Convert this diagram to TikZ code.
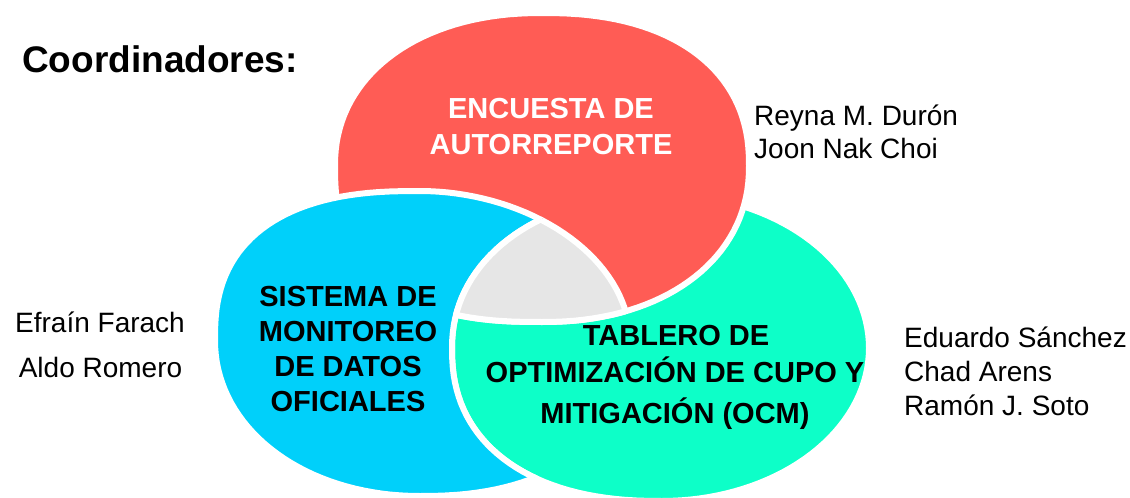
\documentclass[tikz,border=0pt]{standalone}
\usepackage{fontspec}
\setmainfont{Liberation Sans}
\definecolor{redc}{HTML}{FF5C55}
\definecolor{bluec}{HTML}{00D0FA}
\definecolor{greenc}{HTML}{0DFFC8}
\definecolor{grayc}{HTML}{E6E6E6}
\newcommand\sepw[2]{pow(abs(#1(\x))+0.00001,#2)}
\tikzset{
  redshape/.style={insert path={
    plot[domain=0:90,samples=36] ({542+207*\sepw{cos}{0.87}},{166-153*\sepw{sin}{0.87}})
    -- plot[domain=90:180,samples=36] ({542-207*\sepw{cos}{0.93}},{166-153*\sepw{sin}{0.93}})
    -- plot[domain=180:270,samples=36] ({542-207*\sepw{cos}{0.8}},{166+156*\sepw{sin}{0.8}})
    -- plot[domain=270:360,samples=36] ({542+207*\sepw{cos}{0.93}},{166+156*\sepw{sin}{0.93}})
    -- cycle}},
  blueshape/.style={insert path={
    plot[domain=0:90,samples=36] ({420+210*\sepw{cos}{1.026}},{340-149*\sepw{sin}{1.026}})
    -- plot[domain=90:180,samples=36] ({420-205*\sepw{cos}{0.8}},{340-149*\sepw{sin}{0.8}})
    -- plot[domain=180:270,samples=36] ({420-205*\sepw{cos}{0.976}},{340+156*\sepw{sin}{0.976}})
    -- plot[domain=270:360,samples=36] ({420+210*\sepw{cos}{0.87}},{340+156*\sepw{sin}{0.87}})
    -- cycle}},
  greenshape/.style={insert path={
    plot[domain=0:90,samples=36] ({662+207*\sepw{cos}{1.0}},{348-154*\sepw{sin}{1.0}})
    -- plot[domain=90:180,samples=36] ({662-210*\sepw{cos}{0.952}},{348-154*\sepw{sin}{0.952}})
    -- plot[domain=180:270,samples=36] ({662-210*\sepw{cos}{0.87}},{348+153*\sepw{sin}{0.87}})
    -- plot[domain=270:360,samples=36] ({662+207*\sepw{cos}{1.0}},{348+153*\sepw{sin}{1.0}})
    -- cycle}},
  wline/.style={draw=white, line width=6pt},
  lbl/.style={inner sep=0pt, anchor=base},
  boldlbl/.style={lbl, font=\bfseries\fontsize{29}{35}\selectfont},
  namelbl/.style={inner sep=0pt, font=\fontsize{28}{34}\selectfont},
}
\begin{document}
\begin{tikzpicture}[x=1pt,y=-1pt]
\useasboundingbox (0,0) rectangle (1130,498);
% green (bottom layer)
\path[fill=greenc, greenshape];
\path[wline, greenshape];
% red over green
\path[fill=redc, redshape];
\path[wline, redshape];
% blue over red, but not inside green
\begin{scope}
  \path[clip, greenshape] (-20,-20) -- (1150,-20) -- (1150,520) -- (-20,520) -- cycle;
  \path[fill=bluec, blueshape];
  \path[wline, blueshape];
\end{scope}
% green outline over blue
\begin{scope}
  \path[clip, blueshape];
  \path[wline, greenshape];
\end{scope}
% common centre
\begin{scope}
  \path[clip, blueshape];
  \path[clip, greenshape];
  \path[clip, redshape];
  \path[fill=grayc, redshape];
\end{scope}
\begin{scope}
  \path[clip, blueshape];
  \path[clip, greenshape];
  \path[wline, redshape];
\end{scope}
\begin{scope}
  \path[clip, redshape];
  \path[clip, greenshape];
  \path[wline, blueshape];
\end{scope}
\begin{scope}
  \path[clip, redshape];
  \path[clip, blueshape];
  \path[wline, greenshape];
\end{scope}
% texts
\node[lbl, anchor=base west, font=\bfseries\fontsize{37}{44}\selectfont] (coord) at (22,72) {Coordinadores:};
\node[boldlbl, white] (enc1) at (551,118) {ENCUESTA DE};
\node[boldlbl, white] (enc2) at (551,154) {AUTORREPORTE};
\node[boldlbl] (sis1) at (348,306) {SISTEMA DE};
\node[boldlbl] (sis2) at (348,341) {MONITOREO};
\node[boldlbl] (sis3) at (348,376) {DE DATOS};
\node[boldlbl] (sis4) at (348,411) {OFICIALES};
\node[boldlbl] (tab1) at (676,345) {TABLERO DE};
\node[boldlbl] (tab2) at (675,382) {OPTIMIZACIÓN DE CUPO Y};
\node[boldlbl] (tab3) at (675,423) {MITIGACIÓN (OCM)};
\node[namelbl, anchor=base west] (n1) at (754,125) {Reyna M. Durón};
\node[namelbl, anchor=base west] (n2) at (754,158) {Joon Nak Choi};
\node[namelbl, anchor=base] (n3) at (100,332) {Efraín Farach};
\node[namelbl, anchor=base] (n4) at (100.5,377) {Aldo Romero};
\node[namelbl, anchor=base west] (n5) at (904,347) {Eduardo Sánchez};
\node[namelbl, anchor=base west] (n6) at (904,381) {Chad Arens};
\node[namelbl, anchor=base west] (n7) at (904,415) {Ramón J. Soto};
\end{tikzpicture}
\end{document}
